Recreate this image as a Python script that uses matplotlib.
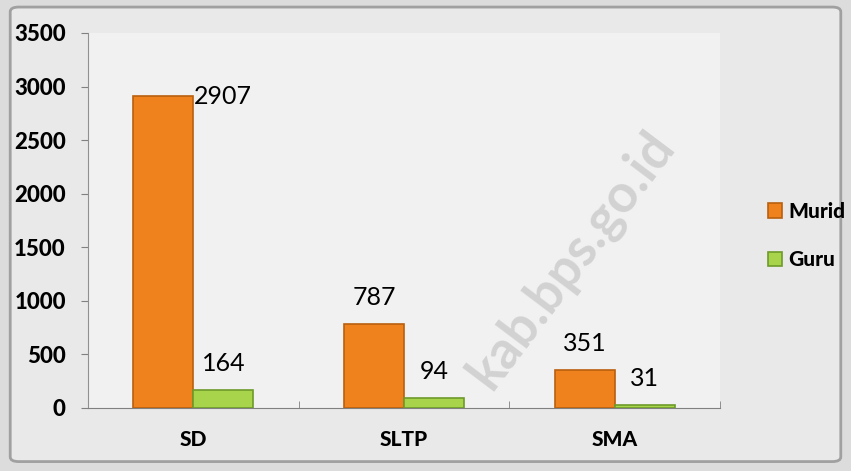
import matplotlib

matplotlib.use("Agg")
import matplotlib.pyplot as plt
import numpy as np
from matplotlib.patches import FancyBboxPatch

categories = ["SD", "SLTP", "SMA"]
murid = [2907, 787, 351]
guru = [164, 94, 31]
series_names = ["Murid", "Guru"]
y_ticks = [0, 500, 1000, 1500, 2000, 2500, 3000, 3500]

plt.rcParams["font.family"] = ["Lato", "DejaVu Sans"]

fig = plt.figure(figsize=[8.51, 4.71], dpi=100)
fig.patch.set_facecolor("#dcdcdc")
frame = FancyBboxPatch(
    (0.012, 0.02), 0.976, 0.965,
    boxstyle="round,pad=0,rounding_size=0.01",
    transform=fig.transFigure, facecolor="#e9e9e9", edgecolor="#a0a0a0", linewidth=2.0, zorder=-5,
)
fig.patches.append(frame)

ax = fig.add_axes([0.1034, 0.134, 0.7426, 0.796])
ax.set_zorder(1)
ax.set_facecolor("#f1f1f1")

x = np.arange(len(categories))
width = 0.285
bars_m = ax.bar(x - width / 2, murid, width, color="#F0821E", edgecolor="#B9600F", linewidth=1.2, label=series_names[0], zorder=3)
bars_g = ax.bar(x + width / 2, guru, width, color="#A8D44C", edgecolor="#6E9A2A", linewidth=1.2, label=series_names[1], zorder=3)

for i, bar in enumerate(bars_m):
    if i == 0:
        ax.annotate(str(murid[i]), (bar.get_x() + bar.get_width() * 1.5, murid[i]), ha="center", va="center",
                    fontsize=18, zorder=4)
    else:
        ax.annotate(str(murid[i]), (bar.get_x() + bar.get_width() / 2, murid[i]), xytext=(0, 19),
                    textcoords="offset points", ha="center", va="center", fontsize=18, zorder=4)
for i, bar in enumerate(bars_g):
    ax.annotate(str(guru[i]), (bar.get_x() + bar.get_width() / 2, guru[i]), xytext=(0, 19),
                textcoords="offset points", ha="center", va="center", fontsize=18, zorder=4)

ax.set_xlim(-0.5, len(categories) - 0.5)
ax.set_ylim(0, 3500)
ax.set_yticks(y_ticks)
ax.set_yticklabels([str(v) for v in y_ticks], fontsize=16, fontweight=900)
ax.set_xticks(x)
ax.set_xticklabels(categories, fontsize=15, fontweight=900)
ax.tick_params(axis="x", length=0, pad=16)
ax.set_xticks(np.arange(len(categories) + 1) - 0.5, minor=True)
ax.tick_params(axis="x", which="minor", length=5, color="#808080", direction="in")
ax.tick_params(axis="y", length=5, color="#808080", pad=11)
for side in ["top", "right"]:
    ax.spines[side].set_visible(False)
ax.spines["left"].set_color("#909090")
ax.spines["bottom"].set_color("#808080")

# faint watermark running up to the right
fig.text(0.78, 0.71, "kab.bps.go.id", rotation=53, rotation_mode="anchor", ha="right", va="center",
         fontsize=38, fontweight="bold", color="#bdbdbd", alpha=0.6, zorder=5)

leg = ax.legend(loc="center left", bbox_to_anchor=(0.88, 0.5), bbox_transform=fig.transFigure, frameon=False,
                prop={"size": 15, "weight": 900}, handlelength=0.7, handleheight=0.7, handletextpad=0.3,
                labelspacing=1.4)

fig.savefig("out.png", dpi=100, facecolor=fig.get_facecolor())
